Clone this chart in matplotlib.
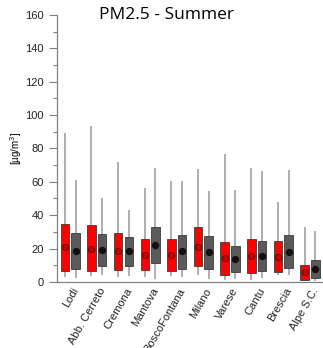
import numpy as np
import matplotlib.pyplot as plt

# Sites along the x axis
sites = ['Lodi', 'Abb. Cerreto', 'Cremona', 'Mantova', 'BoscoFontana',
         'Milano', 'Varese', 'Cantu', 'Brescia', 'Alpe S.C.']

# Red series: whisker low, box low, mean, box high, whisker high
red_lo = [3, 3.4, 3, 3, 3.4, 4, 1, 1, 4, 0.3]
red_q1 = [6.8, 6.6, 7.4, 7, 6.6, 9.6, 4.4, 5.4, 6, 1.4]
red_mean = [20.8, 20, 18.4, 16.4, 16.4, 21, 14.4, 15.6, 15.2, 6]
red_q3 = [34.5, 33.8, 29.4, 25.6, 26, 32.6, 24, 26, 24.4, 10.2]
red_hi = [89, 93.4, 71.8, 56.2, 60.2, 67.4, 76.6, 68, 47.8, 33]

# Grey series
grey_lo = [2.6, 4, 3.4, 1.8, 3, 1.8, 1.8, 2.2, 4, 0.5]
grey_q1 = [8, 9.8, 9.4, 11.4, 8, 7.8, 6, 6.4, 8.2, 2.6]
grey_mean = [18.8, 19.4, 18.4, 22.4, 18.4, 17.8, 13.8, 15.4, 18, 7.8]
grey_q3 = [29.4, 29, 27, 33, 28.4, 27.4, 21.6, 24.4, 28, 13]
grey_hi = [61, 50.2, 43, 68.2, 60.2, 54.6, 55, 66.4, 67, 30.4]

fig = plt.figure(figsize=(3.23, 3.48), dpi=100)
ax = fig.add_axes([0.176, 0.19, 0.821, 0.767])

x = np.arange(1, len(sites) + 1)
off = 0.2
w = 0.32

def draw_series(pos, lo, q1, mean, q3, hi, color, mfc, mec):
    ax.vlines(pos, lo, hi, color='#a8a8a8', lw=1.3, zorder=1)
    ax.bar(pos, np.array(q3) - np.array(q1), bottom=q1, width=w,
           color=color, edgecolor='#3a3a3a', linewidth=0.6, zorder=2)
    ax.plot(pos, mean, 'o', ms=4.5, mfc=mfc, mec=mec, mew=0.8, zorder=3)

draw_series(x - off, red_lo, red_q1, red_mean, red_q3, red_hi,
            '#ff0000', '#cc0000', '#7a0000')
draw_series(x + off, grey_lo, grey_q1, grey_mean, grey_q3, grey_hi,
            '#5a5a5a', '#111111', '#111111')

ax.set_xlim(0.5, 10.45)
ax.set_ylim(0, 160)
ax.set_yticks(np.arange(0, 161, 20))
ax.set_yticks(np.arange(0, 161, 10), minor=True)
ax.set_xticks(x + 0.06)
ax.set_xticklabels(sites, rotation=60, ha='right', va='top',
                   rotation_mode='anchor', fontsize=8, color='#222222',
                   family='Liberation Sans')
ax.tick_params(axis='x', length=0, pad=3)
ax.tick_params(axis='y', which='major', direction='out', length=6,
               width=0.8, color='#808080', labelsize=8, labelcolor='#222222')
ax.tick_params(axis='y', which='minor', direction='out', length=3,
               width=0.8, color='#808080')
for lbl in ax.get_yticklabels():
    lbl.set_family('Liberation Sans')

for s in ['top', 'right']:
    ax.spines[s].set_visible(False)
for s in ['left', 'bottom']:
    ax.spines[s].set_color('#808080')
    ax.spines[s].set_linewidth(0.9)

ax.set_ylabel('[µg/m$^3$]', fontsize=7, family='Liberation Sans', labelpad=1)

fig.text(0.517, 1 - 15 / 348, 'PM2.5 - Summer', ha='center', va='center',
         fontsize=12.5, family='Open Sans')

fig.savefig('out.png', dpi=100)
